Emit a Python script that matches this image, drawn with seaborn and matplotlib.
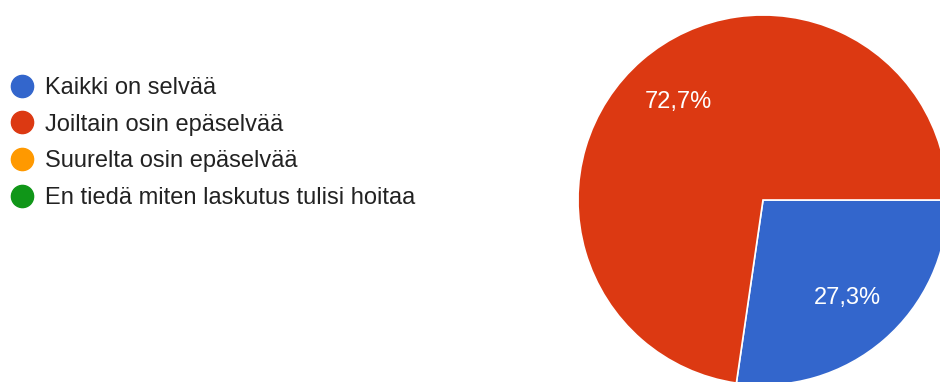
import matplotlib
matplotlib.use("Agg")
import matplotlib.pyplot as plt
from matplotlib.lines import Line2D
import seaborn as sns

# Survey answers: "Is invoicing clear to you?"
categories = [
    "Kaikki on selvää",
    "Joiltain osin epäselvää",
    "Suurelta osin epäselvää",
    "En tiedä miten laskutus tulisi hoitaa",
]
shares = [27.3, 72.7, 0.0, 0.0]
colors = ["#3366cc", "#dc3912", "#ff9900", "#109618"]

sns.set_theme(style="white")
plt.rcParams["font.family"] = ["Liberation Sans", "DejaVu Sans"]

W, H, DPI = 940, 382, 100
fig = plt.figure(figsize=(W / DPI, H / DPI), dpi=DPI)
fig.patch.set_facecolor("white")

# pie centred at (763, 200) px, radius 185 px; it runs off the right and bottom edges
cx, cy, r = 763, 200, 185
ax = fig.add_axes([(cx - r) / W, (H - cy - r) / H, 2 * r / W, 2 * r / H])
ax.set_facecolor("none")

nonzero = [(v, c) for v, c in zip(shares, colors) if v > 0]
vals = [v for v, _ in nonzero]
cols = [c for _, c in nonzero]

wedges, texts, autotexts = ax.pie(
    vals,
    colors=cols,
    startangle=0,
    counterclock=False,
    radius=1,
    autopct=lambda p: f"{p:.1f}%".replace(".", ","),
    pctdistance=0.70,
    wedgeprops=dict(edgecolor="white", linewidth=1.2),
    textprops=dict(color="white", fontsize=17),
)
ax.set_xlim(-1, 1)
ax.set_ylim(-1, 1)
ax.set_aspect("equal", adjustable="box")
ax.axis("off")

handles = [
    Line2D([0], [0], marker="o", linestyle="none", markersize=16,
           markerfacecolor=c, markeredgecolor=c)
    for c in colors
]
leg = fig.legend(
    handles, categories,
    loc="upper left",
    bbox_to_anchor=(13 / W, (H - 77) / H),
    frameon=False,
    fontsize=17,
    handlelength=0.8,
    handletextpad=0.55,
    labelspacing=0.62,
    borderpad=0,
    borderaxespad=0,
)
for t in leg.get_texts():
    t.set_color("#222222")

fig.savefig("out.png", dpi=DPI, facecolor="white")
